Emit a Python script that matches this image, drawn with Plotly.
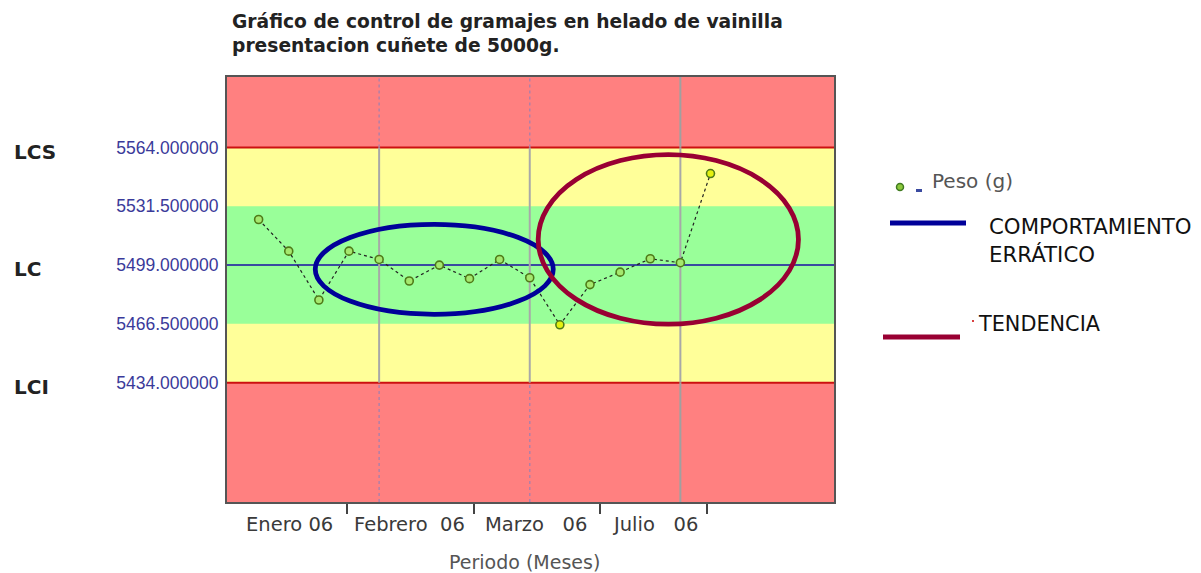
import plotly.graph_objects as go

# ---- data ----
PESO = [5524.2, 5506.7, 5479.7, 5506.7, 5502.1, 5490.2, 5499.0, 5491.5,
        5502.1, 5492.0, 5466.0, 5488.2, 5495.1, 5502.5, 5500.3, 5549.6]
LCS = 5564.0
LC = 5499.0
LCI = 5434.0
Y_TICKS = [5434.0, 5466.5, 5499.0, 5531.5, 5564.0]
MONTH_LABELS = ["Enero\u00a006", "Febrero\u00a0\u00a006", "Marzo\u00a0\u00a0\u00a006", "Julio\u00a0\u00a0\u00a006"]
LABEL_POS = [1.03, 5.02, 9.2, 13.16]
TICK_POS = [2.92, 7.14, 11.33, 14.88]
GRID_IDX = [4, 9, 14]
GRID_DOTTED_OUTSIDE = [True, True, False]
ERRATICO_BOX = dict(x0=1.88, x1=9.78, y0=5471.8, y1=5521.5)
TENDENCIA_BOX = dict(x0=9.28, x1=17.92, y0=5466.3, y1=5560.1)
X_RANGE = [-1.05, 19.1]
Y_RANGE = [5368.0, 5603.0]

# page offset (body margin) compensation
OFF = 8
WIN_W, WIN_H = 1201, 573
W, H = WIN_W - OFF, WIN_H - OFF
P_L, P_R, P_T, P_B = 227, 834, 77, 502  # plot area in window pixels
ML, MR, MT, MB = P_L - OFF, WIN_W - P_R, P_T - OFF, WIN_H - P_B
PW, PH = P_R - P_L, P_B - P_T


def px(x):
    return (x - P_L) / PW


def py(y):
    return (P_B - y) / PH


half = (LCS - LC) / 2
green_lo, green_hi = LC - half, LC + half
x_idx = list(range(len(PESO)))
fills = ["#a4e86e" if green_lo <= v <= green_hi else "#e4f010" for v in PESO]

fig = go.Figure()
fig.add_trace(go.Scatter(
    x=x_idx, y=PESO, mode="lines+markers", name="Peso (g)",
    line=dict(color="#222222", width=1.2, dash="dot"),
    marker=dict(size=8, color=fills, line=dict(color="#4f7a18", width=1.6)),
    showlegend=False, hoverinfo="x+y"))

shapes = []
shapes.append(dict(type="rect", xref="x domain", yref="y", x0=0, x1=1, y0=LCI, y1=LCS,
                   fillcolor="#ffff99", line=dict(width=0), layer="below"))
shapes.append(dict(type="rect", xref="x domain", yref="y", x0=0, x1=1, y0=green_lo, y1=green_hi,
                   fillcolor="#99ff99", line=dict(width=0), layer="below"))
for g, dotted in zip(GRID_IDX, GRID_DOTTED_OUTSIDE):
    shapes.append(dict(type="line", xref="x", yref="y", x0=g, x1=g, y0=LCI, y1=LCS,
                       line=dict(color="#a8a8a8", width=2), layer="below"))
    out_line = (dict(color="#b080a8", width=1.5, dash="dot") if dotted
                else dict(color="#a0a0a0", width=2))
    shapes.append(dict(type="line", xref="x", yref="y", x0=g, x1=g, y0=LCS, y1=Y_RANGE[1],
                       line=out_line, layer="below"))
    shapes.append(dict(type="line", xref="x", yref="y", x0=g, x1=g, y0=Y_RANGE[0], y1=LCI,
                       line=out_line, layer="below"))
for v, c in [(LCS, "#cc1010"), (LCI, "#cc1010"), (LC, "#3a4aa0")]:
    shapes.append(dict(type="line", xref="x domain", yref="y", x0=0, x1=1, y0=v, y1=v,
                       line=dict(color=c, width=2), layer="below"))
shapes.append(dict(type="circle", xref="x", yref="y", **ERRATICO_BOX,
                   line=dict(color="#000099", width=4.8)))
shapes.append(dict(type="circle", xref="x", yref="y", **TENDENCIA_BOX,
                   line=dict(color="#990033", width=4.8)))
# legend decorations
shapes.append(dict(type="circle", xref="paper", yref="paper",
                   x0=px(896.5), x1=px(903.5), y0=py(190.5), y1=py(183.5),
                   fillcolor="#8cc83c", line=dict(color="#3f7a20", width=1.5)))
shapes.append(dict(type="rect", xref="paper", yref="paper",
                   x0=px(916), x1=px(922), y0=py(192), y1=py(189),
                   fillcolor="#3a4aa0", line=dict(width=0)))
shapes.append(dict(type="line", xref="paper", yref="paper",
                   x0=px(890), x1=px(966), y0=py(223), y1=py(223),
                   line=dict(color="#000099", width=5)))
shapes.append(dict(type="line", xref="paper", yref="paper",
                   x0=px(883), x1=px(960), y0=py(337), y1=py(337),
                   line=dict(color="#990033", width=5)))
shapes.append(dict(type="circle", xref="paper", yref="paper",
                   x0=px(972), x1=px(974), y0=py(322), y1=py(320),
                   fillcolor="#cc0000", line=dict(width=0)))

ann = []
ann.append(dict(x=px(230), y=py(9), xref="paper", yref="paper",
                text="Gráfico de control de gramajes en helado de vainilla<br>presentacion cuñete de 5000g.",
                showarrow=False, xanchor="left", yanchor="top", align="left",
                font=dict(family="DejaVu Sans", size=18.7, color="#222222", weight="bold")))
for lab, pos in zip(MONTH_LABELS, LABEL_POS):
    ann.append(dict(x=pos, y=py(524), xref="x", yref="paper", text=lab, showarrow=False,
                    xanchor="center", yanchor="middle",
                    font=dict(family="DejaVu Sans", size=19.5, color="#3a3a3a")))
ann.append(dict(x=px(524), y=py(562), xref="paper", yref="paper", text="Periodo (Meses)",
                showarrow=False, xanchor="center", yanchor="middle",
                font=dict(family="DejaVu Sans", size=19, color="#555555")))
for name, v in [("LCS", LCS), ("LC", LC), ("LCI", LCI)]:
    ann.append(dict(x=px(12), y=v, xref="paper", yref="y", text=name, showarrow=False,
                    xanchor="left", yanchor="middle", yshift=-4,
                    font=dict(family="DejaVu Sans", size=20, color="#222222", weight="bold")))
ann.append(dict(x=px(930), y=py(181), xref="paper", yref="paper", text="Peso (g)", showarrow=False,
                xanchor="left", yanchor="middle",
                font=dict(family="DejaVu Sans", size=20, color="#555555")))
ann.append(dict(x=px(987), y=py(240.5), xref="paper", yref="paper",
                text="COMPORTAMIENTO<br>ERRÁTICO", showarrow=False, align="left",
                xanchor="left", yanchor="middle",
                font=dict(family="DejaVu Sans", size=21.3, color="#111111")))
ann.append(dict(x=px(976), y=py(324), xref="paper", yref="paper", text="TENDENCIA", showarrow=False,
                xanchor="left", yanchor="middle",
                font=dict(family="DejaVu Sans", size=20.8, color="#111111")))

fig.update_layout(
    width=W, height=H,
    margin=dict(l=ML, r=MR, t=MT, b=MB, pad=0),
    paper_bgcolor="white", plot_bgcolor="#ff8080",
    shapes=shapes, annotations=ann, showlegend=False,
    xaxis=dict(range=X_RANGE, showgrid=False, zeroline=False, tickvals=TICK_POS,
               showticklabels=False, ticks="outside", ticklen=10, tickwidth=2, tickcolor="#444444",
               showline=True, mirror=True, linecolor="#555555", linewidth=2),
    yaxis=dict(range=Y_RANGE, showgrid=False, zeroline=False, tickvals=Y_TICKS,
               ticktext=[f"{v:.6f}" for v in Y_TICKS], ticks="outside", ticklen=3,
               tickcolor="rgba(0,0,0,0)",
               tickfont=dict(family="Liberation Sans", size=17.5, color="#3a3a9a"),
               showline=True, mirror=True, linecolor="#555555", linewidth=2),
)

fig.write_html("out.html")
